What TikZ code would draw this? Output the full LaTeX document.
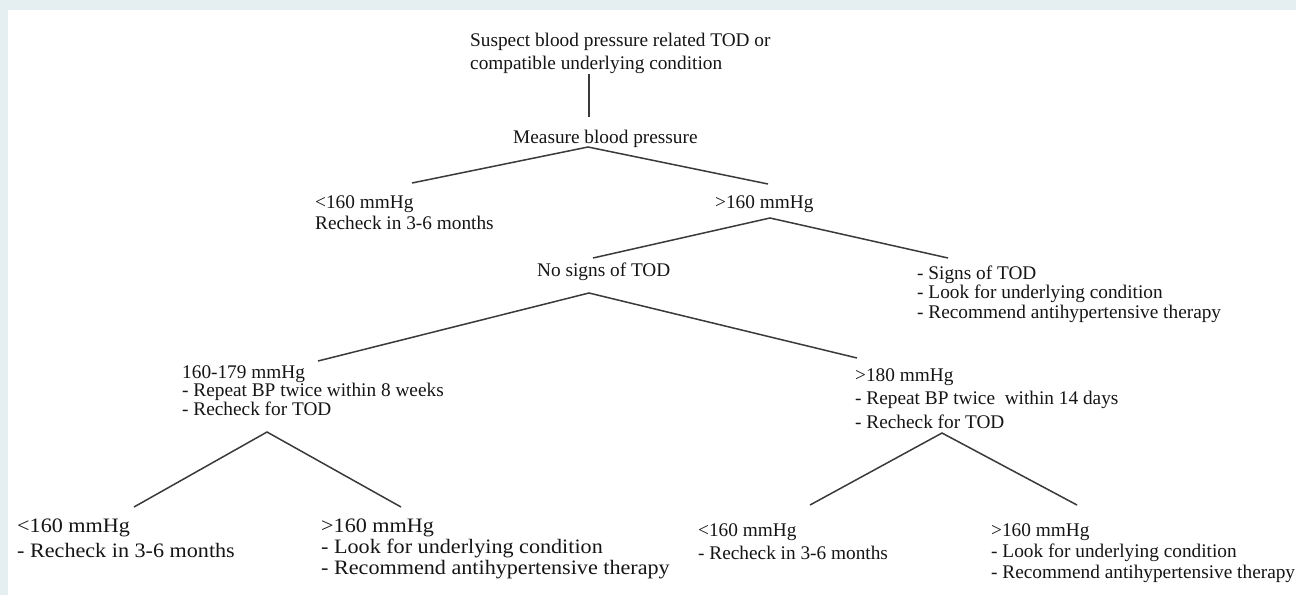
\documentclass[tikz,border=0pt]{standalone}
\usepackage{fontspec}
\setmainfont{Liberation Serif}
\newfontfamily\widefont[FakeStretch=1.08]{Liberation Serif}
\definecolor{framebg}{HTML}{E5EEF1}
\definecolor{ink}{HTML}{151515}
\definecolor{wire}{HTML}{3A3A3A}
\tikzset{
  txt/.style={anchor=base west, inner sep=0pt, text=ink, font=\fontsize{19.3}{21}\selectfont},
  wtxt/.style={anchor=base west, inner sep=0pt, text=ink, font=\widefont\fontsize{20.5}{22}\selectfont},
  link/.style={draw=wire, line width=1.5pt}
}
\begin{document}
\begin{tikzpicture}[x=1pt,y=-1pt]
\useasboundingbox (0,0) rectangle (1296,595);
\fill[framebg] (0,0) rectangle (1296,595);
\fill[white] (8,10) rectangle (1296,595);

% texts
\node[txt] (t1) at (470,46) {Suspect blood pressure related TOD or};
\node[txt] (t2) at (470,69) {compatible underlying condition};
\node[txt] (m) at (513,143) {Measure blood pressure};
\node[txt] (la) at (315,208) {<160 mmHg};
\node[txt] (lb) at (315,229) {Recheck in 3-6 months};
\node[txt] (ra) at (715,208) {>160 mmHg};
\node[txt] (n) at (537,276) {No signs of TOD};
\node[txt] (sa) at (917,279) {- Signs of TOD};
\node[txt] (sb) at (917,298) {- Look for underlying condition};
\node[txt] (sc) at (917,318) {- Recommend antihypertensive therapy};
\node[txt] (aa) at (182,378) {160-179 mmHg};
\node[txt] (ab) at (182,396) {- Repeat BP twice within 8 weeks};
\node[txt] (ac) at (182,415) {- Recheck for TOD};
\node[txt] (ba) at (855,381) {>180 mmHg};
\node[txt] (bb) at (855,404) {- Repeat BP twice\ \ within 14 days};
\node[txt] (bc) at (855,428) {- Recheck for TOD};
\node[wtxt] (pa) at (17,532) {<160 mmHg};
\node[wtxt] (pb) at (17,557) {- Recheck in 3-6 months};
\node[wtxt] (qa) at (321,532) {>160 mmHg};
\node[wtxt] (qb) at (321,553) {- Look for underlying condition};
\node[wtxt] (qc) at (321,574) {- Recommend antihypertensive therapy};
\node[txt] (ua) at (698,536) {<160 mmHg};
\node[txt] (ub) at (698,559) {- Recheck in 3-6 months};
\node[txt] (va) at (991,536) {>160 mmHg};
\node[txt] (vb) at (991,557) {- Look for underlying condition};
\node[txt] (vc) at (991,578) {- Recommend antihypertensive therapy};

% connector points
\coordinate (k0) at (589,74);
\coordinate (k1) at (589,117);
\coordinate (k2) at (588,147);
\coordinate (k2l) at (412,183);
\coordinate (k2r) at (768,184);
\coordinate (k3) at (770,218);
\coordinate (k3l) at (593,258);
\coordinate (k3r) at (948,258);
\coordinate (k4) at (589,293);
\coordinate (k4l) at (318,361);
\coordinate (k4r) at (857,358);
\coordinate (k5) at (267,432);
\coordinate (k5l) at (134,507);
\coordinate (k5r) at (401,507);
\coordinate (k6) at (942,433);
\coordinate (k6l) at (810,505);
\coordinate (k6r) at (1077,505);

\draw[link] (k0) -- (k1);
\draw[link] (k2l) -- (k2) -- (k2r);
\draw[link] (k3l) -- (k3) -- (k3r);
\draw[link] (k4l) -- (k4) -- (k4r);
\draw[link] (k5l) -- (k5) -- (k5r);
\draw[link] (k6l) -- (k6) -- (k6r);
\end{tikzpicture}
\end{document}
